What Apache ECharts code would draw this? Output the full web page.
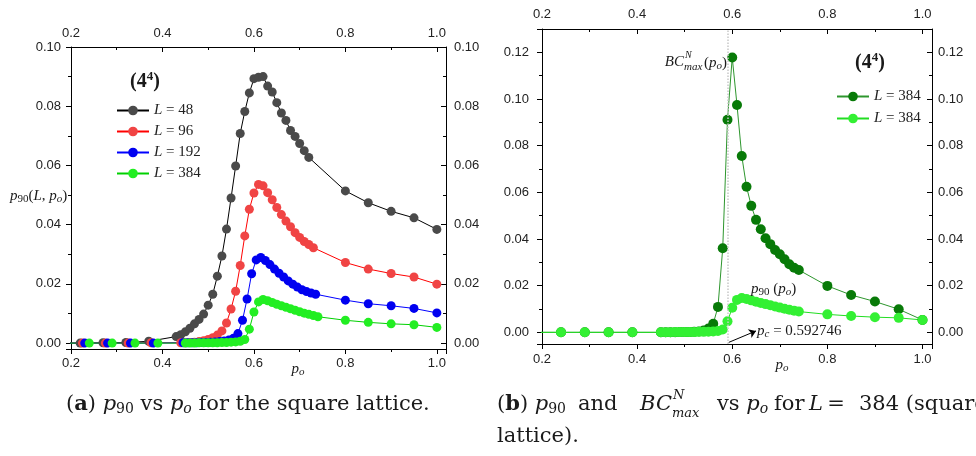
<!DOCTYPE html>
<html>
<head>
<meta charset="utf-8">
<script src="https://cdn.jsdelivr.net/npm/echarts@6/dist/echarts.min.js"></script>
<style>
html, body { margin: 0; padding: 0; background: #fff; }
#chart { width: 976px; height: 456px; }
</style>
</head>
<body>
<div id="chart"></div>
<script>
// values
const tailX = [0.8, 0.85, 0.9, 0.95, 1.0];

// (a) p90(L, po), square lattice
const lowX48 = [0.19, 0.22, 0.27, 0.32, 0.37];
const lowY48 = [0, 0, 0.0001, 0.0002, 0.0006];
const denseX48 = [0.43, 0.44, 0.45, 0.46, 0.47, 0.48, 0.49, 0.50, 0.51, 0.52, 0.53, 0.54, 0.55, 0.56, 0.57,
  0.58, 0.59, 0.60, 0.61, 0.62, 0.63, 0.64, 0.65, 0.66, 0.67, 0.68, 0.69, 0.70, 0.71, 0.72];
const denseY48 = [0.0022, 0.0028, 0.0038, 0.0050, 0.0065, 0.0080, 0.0098, 0.0128, 0.0165, 0.0226, 0.0294, 0.0385,
  0.0490, 0.0598, 0.0708, 0.0782, 0.0845, 0.0893, 0.0898, 0.0900, 0.0868, 0.0848, 0.0812, 0.0777, 0.0752,
  0.0718, 0.0698, 0.0674, 0.0650, 0.0627];
const tailY48 = [0.0514, 0.0474, 0.0445, 0.0423, 0.0384];

const lowX96 = [0.19, 0.225, 0.275, 0.325, 0.375];
const lowY96 = [0, 0, 0, 0, 0.0001];
const denseX96 = [0.44, 0.45, 0.46, 0.47, 0.48, 0.49, 0.50, 0.51, 0.52, 0.53, 0.54, 0.55, 0.56, 0.57, 0.58,
  0.59, 0.60, 0.61, 0.62, 0.63, 0.64, 0.65, 0.66, 0.67, 0.68, 0.69, 0.70, 0.71, 0.72, 0.73];
const denseY96 = [0.0001, 0.0001, 0.0002, 0.0003, 0.0005, 0.0008, 0.0012, 0.0018, 0.0027, 0.0041, 0.0068, 0.0115,
  0.0175, 0.0262, 0.0362, 0.0452, 0.0507, 0.0536, 0.0531, 0.0508, 0.0484, 0.0458, 0.0434, 0.0412, 0.0393,
  0.0373, 0.0357, 0.0343, 0.0333, 0.0322];
const tailY96 = [0.0272, 0.0250, 0.0235, 0.0223, 0.0199];

const lowX192 = [0.19, 0.23, 0.28, 0.33, 0.38];
const lowY192 = [0, 0, 0, 0, 0];
const denseX192 = [0.445, 0.455, 0.465, 0.475, 0.485, 0.495, 0.505, 0.515, 0.525, 0.535, 0.545, 0.555, 0.565,
  0.575, 0.585, 0.595, 0.605, 0.615, 0.625, 0.635, 0.645, 0.655, 0.665, 0.675, 0.685, 0.695, 0.705, 0.715,
  0.725, 0.735];
const denseY192 = [0.0001, 0.0001, 0.0001, 0.0001, 0.0002, 0.0002, 0.0003, 0.0004, 0.0005, 0.0007, 0.0010, 0.0016,
  0.0032, 0.0077, 0.0149, 0.0234, 0.0281, 0.0289, 0.0279, 0.0265, 0.0250, 0.0236, 0.0223, 0.0210, 0.0199,
  0.0189, 0.0180, 0.0174, 0.0169, 0.0165];
const tailY192 = [0.0145, 0.0133, 0.0126, 0.0117, 0.0102];

// L = 384 is shared by both panels
const lowX384 = [0.19, 0.24, 0.29, 0.34, 0.39];
const lowY384 = [0, 0, 0, 0, 0];
const denseX384 = [0.45, 0.46, 0.47, 0.48, 0.49, 0.50, 0.51, 0.52, 0.53, 0.54, 0.55, 0.56, 0.57, 0.58, 0.59,
  0.60, 0.61, 0.62, 0.63, 0.64, 0.65, 0.66, 0.67, 0.68, 0.69, 0.70, 0.71, 0.72, 0.73, 0.74];
const denseY384 = [0, 0, 0, 0.0001, 0.0001, 0.0001, 0.0001, 0.0001, 0.0002, 0.0002, 0.0003, 0.0004, 0.0006,
  0.0012, 0.0047, 0.0105, 0.0139, 0.0147, 0.0143, 0.0137, 0.0131, 0.0126, 0.0121, 0.0116, 0.0111, 0.0106,
  0.0101, 0.0097, 0.0093, 0.0089];
const tailY384 = [0.0077, 0.0070, 0.0065, 0.0062, 0.0053];

// (b) BC^N_max(po), L = 384
const lowYBC = [0, 0, 0, 0, 0];
const denseYBC = [0, 0, 0, 0, 0.0001, 0.0001, 0.0001, 0.0002, 0.0004, 0.0008, 0.0016, 0.0037, 0.0109, 0.0360,
  0.0911, 0.1178, 0.0974, 0.0756, 0.0624, 0.0542, 0.0482, 0.0442, 0.0403, 0.0378, 0.0353, 0.0335, 0.0313,
  0.0292, 0.0277, 0.0267];
const tailYBC = [0.0199, 0.0160, 0.0132, 0.0099, 0.0053];

const pc = 0.592746;
const legendSize = { L48: '48', L96: '96', L192: '192', L384: '384', BC384: '384', P384: '384' };

const serif = 'Liberation Serif';
const capFont = 'DejaVu Serif';
const sans = 'Liberation Sans';

function pts(xs, ys) {
  return xs.map((x, i) => [x, ys[i]]);
}
function join(a, b, c) {
  return a.concat(b, c);
}

function line(name, data, marker, stroke, xi, yi, size) {
  return {
    name: name, type: 'line', xAxisIndex: xi, yAxisIndex: yi, data: data,
    symbol: 'circle', symbolSize: size, showSymbol: true, clip: true,
    itemStyle: { color: marker },
    lineStyle: { color: stroke, width: 1 },
    emphasis: { disabled: true }
  };
}

function isTick(v, step) {
  return Math.abs(v / step - Math.round(v / step)) < 1e-6;
}

function xAxis(grid, pos, inside, margin) {
  return {
    type: 'value', gridIndex: grid, position: pos, min: 0.2, max: 1.02, interval: 0.2,
    axisLine: { show: true, onZero: false, lineStyle: { color: '#000', width: 1 } },
    splitLine: { show: false },
    axisTick: { show: true, inside: inside, length: 5, lineStyle: { color: '#000' } },
    minorTick: { show: true, splitNumber: 2, length: 3, lineStyle: { color: '#000' } },
    axisLabel: {
      fontFamily: sans, fontSize: 13, color: '#222', margin: margin,
      formatter: v => (isTick(v, 0.2) && v <= 1.0001 ? v.toFixed(1) : '')
    }
  };
}

function yAxis(grid, pos, inside, margin, min, max, split) {
  return {
    type: 'value', gridIndex: grid, position: pos, min: min, max: max, splitNumber: split,
    axisLine: { show: true, onZero: false, lineStyle: { color: '#000', width: 1 } },
    splitLine: { show: false },
    axisTick: { show: true, inside: inside, length: 5, lineStyle: { color: '#000' } },
    minorTick: { show: true, splitNumber: 2, length: 3, lineStyle: { color: '#000' } },
    axisLabel: {
      fontFamily: sans, fontSize: 13, color: '#222', margin: margin,
      formatter: v => (v > -1e-9 && isTick(v, 0.02) ? v.toFixed(2) : '')
    }
  };
}

const rich = {
  i: { fontFamily: serif, fontStyle: 'italic', fontSize: 15, color: '#222' },
  n: { fontFamily: serif, fontSize: 15, color: '#222' },
  sub: { fontFamily: serif, fontSize: 11, color: '#222', padding: [7, 0, 0, 0] },
  subi: { fontFamily: serif, fontStyle: 'italic', fontSize: 11, color: '#222', padding: [7, 0, 0, 0] }
};

function txt(x, y, text, align, r, base, family, weight) {
  return {
    type: 'text', silent: true, z: 100,
    style: {
      x: x, y: y, text: text, align: align || 'left', verticalAlign: 'middle',
      fontFamily: family || serif, fontSize: base || 15, fontWeight: weight || 'normal',
      fill: '#1a1a1a', rich: r || rich
    }
  };
}

const capRich = {
  b: { fontFamily: capFont, fontWeight: 'bold', fontSize: 21, color: '#1a1a1a' },
  i: { fontFamily: capFont, fontStyle: 'italic', fontSize: 21, color: '#1a1a1a' },
  sub: { fontFamily: capFont, fontSize: 14, color: '#1a1a1a', padding: [9, 0, 0, 0] },
  subi: { fontFamily: capFont, fontStyle: 'italic', fontSize: 14, color: '#1a1a1a', padding: [9, 0, 0, 0] }
};
const supRich = {
  sup: { fontFamily: serif, fontWeight: 'bold', fontSize: 13, color: '#000', padding: [0, 0, 10, 0] }
};
const smallItalic = size => ({ i: { fontFamily: serif, fontStyle: 'italic', fontSize: size, color: '#222' } });
const capSmall = { i: { fontFamily: capFont, fontStyle: 'italic', fontSize: 13, color: '#1a1a1a' } };

const chart = echarts.init(document.getElementById('chart'), null, { renderer: 'canvas' });

const option = {
  animation: false,
  backgroundColor: '#fff',
  grid: [
    { left: 71, top: 47, width: 375, height: 302 },
    { left: 542, top: 29, width: 390, height: 315 }
  ],
  xAxis: [
    xAxis(0, 'bottom', false, 8),
    xAxis(0, 'top', true, 7),
    xAxis(1, 'bottom', false, 9),
    xAxis(1, 'top', true, 8)
  ],
  yAxis: [
    yAxis(0, 'left', false, 10, -0.002, 0.10, 5),
    yAxis(0, 'right', true, 8, -0.002, 0.10, 5),
    yAxis(1, 'left', false, 13, -0.005, 0.13, 7),
    yAxis(1, 'right', true, 6, -0.005, 0.13, 7)
  ],
  legend: [
    {
      data: ['L48', 'L96', 'L192', 'L384'], orient: 'vertical', left: 111, top: 98,
      itemWidth: 32, itemHeight: 12, itemGap: 6, selectedMode: false,
      formatter: name => '{i|L} = ' + legendSize[name],
      textStyle: { fontFamily: serif, fontSize: 15, color: '#222', rich: rich }
    },
    {
      data: ['BC384', 'P384'], orient: 'vertical', left: 831, top: 84,
      itemWidth: 32, itemHeight: 12, itemGap: 7, selectedMode: false,
      formatter: name => '{i|L} = ' + legendSize[name],
      textStyle: { fontFamily: serif, fontSize: 15, color: '#222', rich: rich }
    }
  ],
  series: [
    line('L48', join(pts(lowX48, lowY48), pts(denseX48, denseY48), pts(tailX, tailY48)), '#4a4a4a', '#000', 0, 0, 9),
    line('L96', join(pts(lowX96, lowY96), pts(denseX96, denseY96), pts(tailX, tailY96)), '#f04444', '#ff0000', 0, 0, 9),
    line('L192', join(pts(lowX192, lowY192), pts(denseX192, denseY192), pts(tailX, tailY192)), '#0000f0', '#0000ff', 0, 0, 9),
    line('L384', join(pts(lowX384, lowY384), pts(denseX384, denseY384), pts(tailX, tailY384)), '#22ee22', '#00d000', 0, 0, 9),
    Object.assign(
      line('BC384', join(pts(lowX384, lowYBC), pts(denseX384, denseYBC), pts(tailX, tailYBC)), '#087a08', '#2e962e', 2, 2, 10),
      {
        markLine: {
          silent: true, symbol: 'none', label: { show: false },
          lineStyle: { color: '#c8c8c8', type: 'dotted', width: 1.5 },
          data: [{ xAxis: pc }]
        }
      }
    ),
    Object.assign(
      line('P384', join(pts(lowX384, lowY384), pts(denseX384, denseY384), pts(tailX, tailY384)), '#33f033', '#22dd22', 2, 2, 10),
      {
        markLine: {
          silent: true, symbol: ['none', 'arrow'], symbolSize: 7, label: { show: false },
          lineStyle: { color: '#000', type: 'solid', width: 1 },
          data: [[{ coord: [pc, -0.0043] }, { coord: [0.65, 0.0006] }]]
        }
      }
    )
  ],
  graphic: [
    txt(145, 82, '(4{sup|4})', 'center', supRich, 20, serif, 'bold'),
    txt(870, 63, '(4{sup|4})', 'center', supRich, 20, serif, 'bold'),
    // BC^N_max(po) next to the peak
    txt(684, 62, '{i|BC}', 'right'),
    txt(685, 55, '{i|N}', 'left', smallItalic(10)),
    txt(684, 67, '{i|max}', 'left', smallItalic(11)),
    txt(704, 63, '{n|(}{i|p}{subi|o}{n|)}', 'left'),
    txt(751, 289, '{i|p}{sub|90} {n|(}{i|p}{subi|o}{n|)}', 'left'),
    txt(757, 331, '{i|p}{subi|c}{n| = 0.592746}', 'left', null, 14),
    // axis names
    txt(10, 196, '{i|p}{sub|90}{n|(}{i|L}{n|, }{i|p}{subi|o}{n|)}', 'left'),
    txt(298, 369, '{i|p}{subi|o}', 'center'),
    txt(782, 365, '{i|p}{subi|o}', 'center'),
    // captions
    txt(66, 405, '({b|a}) {i|p}{sub|90} vs {i|p}{subi|o} for the square lattice.', 'left', capRich, 21, capFont),
    txt(497, 405, '({b|b}) {i|p}{sub|90}', 'left', capRich, 21, capFont),
    txt(578, 405, 'and', 'left', capRich, 21, capFont),
    txt(672, 405, '{i|BC}', 'right', capRich, 21, capFont),
    txt(673, 396, '{i|N}', 'left', capSmall),
    txt(672, 414, '{i|max}', 'left', capSmall),
    txt(717, 405, 'vs {i|p}{subi|o}', 'left', capRich, 21, capFont),
    txt(774, 405, 'for', 'left', capRich, 21, capFont),
    txt(809, 405, '{i|L}', 'left', capRich, 21, capFont),
    txt(836, 405, '=', 'center', capRich, 21, capFont),
    txt(859, 405, '384 (square', 'left', capRich, 21, capFont),
    txt(497, 437, 'lattice).', 'left', capRich, 21, capFont)
  ]
};

chart.setOption(option);
</script>
</body>
</html>
